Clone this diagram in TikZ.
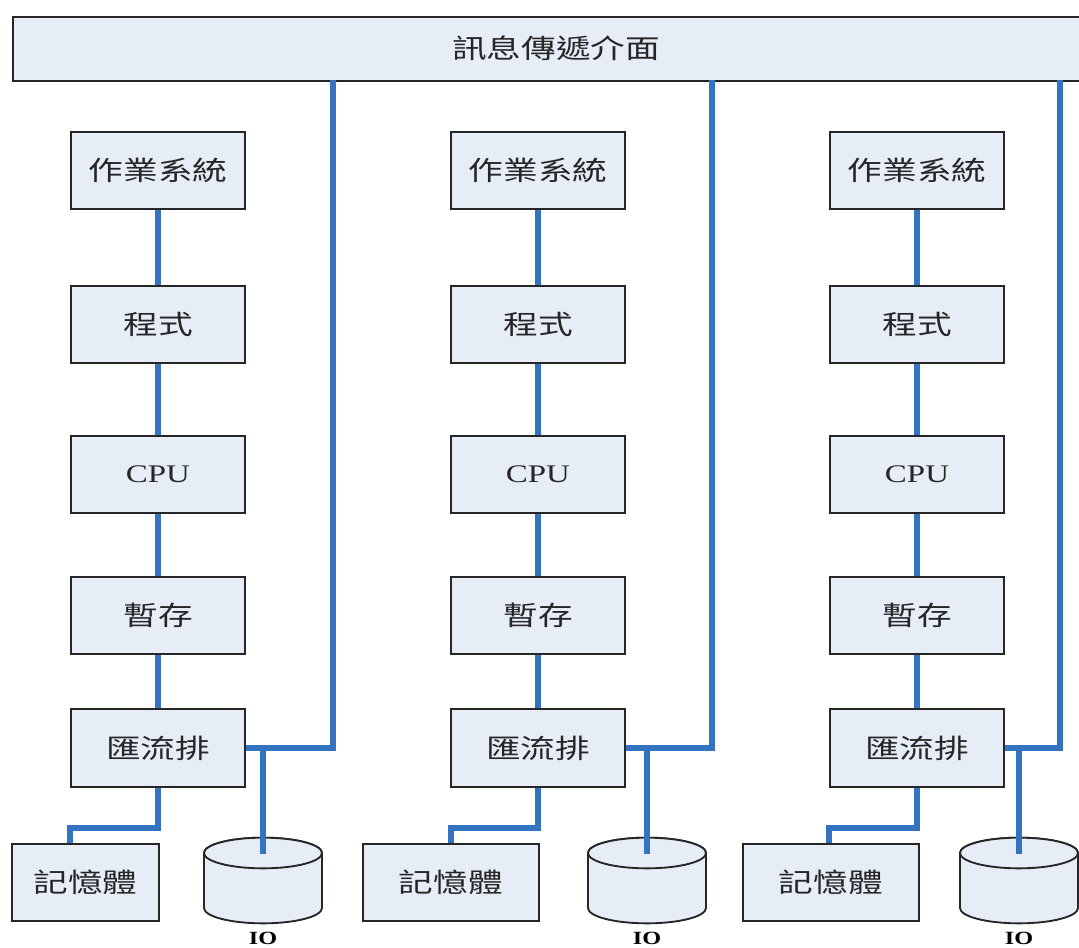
\documentclass[tikz,border=0pt]{standalone}
\usepackage{fontspec}
\setmainfont{Liberation Serif}
\newfontfamily\cjk{Noto Sans CJK TC}
\usepackage{graphicx}
\definecolor{boxfill}{HTML}{E6EDF7}
\definecolor{linkblue}{HTML}{3473C0}
\tikzset{
  px/.style={x=0.75pt,y=-0.75pt},
  blockbox/.style={draw=black!85,line width=1.4pt,fill=boxfill,minimum width=131pt,minimum height=58pt,inner sep=0pt},
  cjktext/.style={font=\cjk\fontsize{20}{22}\selectfont,text=black!85},
  link/.style={draw=linkblue,line width=4.3pt},
  cylbody/.style={draw=black!85,line width=1.4pt,fill=boxfill},
  iolabel/.style={font=\bfseries\fontsize{14}{15}\selectfont,inner sep=0pt,anchor=base},
}
\newcommand{\wide}[1]{\scalebox{1.3}[1]{#1}}
\begin{document}
\begin{tikzpicture}[px]
\useasboundingbox (0,0) rectangle (1079,947);
% top bar
\node[blockbox,minimum width=801pt,minimum height=48pt,anchor=north west] (bus) at (12,16) {};
\node[cjktext] (bustext) at (556,48) {\wide{訊息傳遞介面}};
% columns
\foreach \c/\cx/\mx/\mcx/\iox/\rx in {1/158/11/70/263/333, 2/538/362/451/647/712, 3/917/742/829/1019/1060}{
  \node[blockbox,cjktext] (os\c) at (\cx,170.5) {\wide{作業系統}};
  \node[blockbox,cjktext] (pg\c) at (\cx,324.5) {\wide{程式}};
  \node[blockbox,font=\fontsize{19}{21}\selectfont,text=black!85] (cpu\c) at (\cx,474.5) {\wide{CPU}};
  \node[blockbox,cjktext] (reg\c) at (\cx,615.5) {\wide{暫存}};
  \node[blockbox,cjktext] (bs\c) at (\cx,748) {\wide{匯流排}};
  % memory box
  \pgfmathsetmacro{\mw}{(\c==1)?147:176}
  \node[blockbox,cjktext,anchor=north west,minimum width=\mw*0.75pt] (mem\c) at (\mx,843) {\wide{記憶體}};
  % IO cylinder
  \draw[cylbody] (\iox-59,853) -- (\iox-59,908) arc[start angle=180,end angle=360,x radius=44.25pt,y radius=11.5pt] -- (\iox+59,853) arc[start angle=0,end angle=180,x radius=44.25pt,y radius=11.5pt] -- cycle;
  \draw[cylbody] (\iox,853) ellipse[x radius=44.25pt,y radius=11.5pt];
  \coordinate (io\c) at (\iox,854);
  \node[iolabel] (iol\c) at (\iox,944) {\wide{IO}};
  \coordinate (up\c) at (\rx,80);
  \coordinate (jn\c) at (\iox,748);
  % links
  \draw[link] (os\c) -- (pg\c);
  \draw[link] (pg\c) -- (cpu\c);
  \draw[link] (cpu\c) -- (reg\c);
  \draw[link] (reg\c) -- (bs\c);
  \draw[link] (bs\c.east) -- (\rx,748) -- (up\c);
  \draw[link] (jn\c) -- (io\c);
  \draw[link] (bs\c.south) |- (\mcx,828) -- (\mcx,843);
}
\end{tikzpicture}
\end{document}
